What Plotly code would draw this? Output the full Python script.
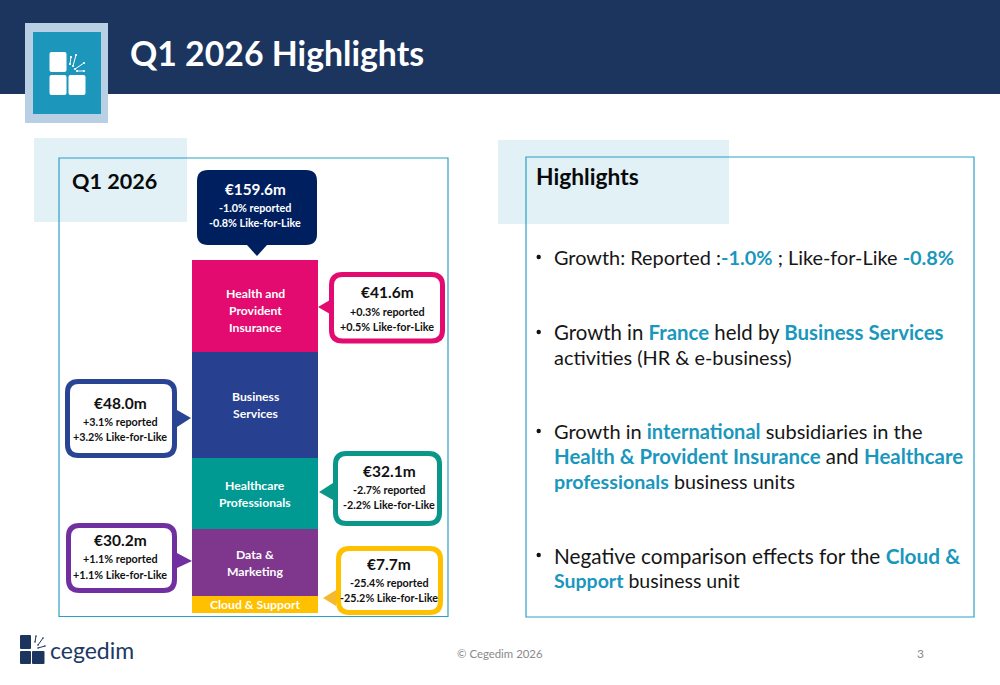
import plotly.graph_objects as go

# ---- data ----
segments = ["Cloud & Support", "Data &<br>Marketing", "Healthcare<br>Professionals",
            "Business<br>Services", "Health and<br>Provident<br>Insurance"]
revenue = [7.7, 30.2, 32.1, 48.0, 41.6]
seg_colors = ["#FFC000", "#7E378D", "#009A93", "#27408F", "#E30B6F"]

total_value = "€159.6m"
total_reported = "-1.0% reported"
total_lfl = "-0.8% Like-for-Like"
callout_values = ["€41.6m", "€48.0m", "€32.1m", "€30.2m", "€7.7m"]
callout_reported = ["+0.3% reported", "+3.1% reported", "-2.7% reported", "+1.1% reported", "-25.4% reported"]
callout_lfl = ["+0.5% Like-for-Like", "+3.2% Like-for-Like", "-2.2% Like-for-Like", "+1.1% Like-for-Like", "-25.2% Like-for-Like"]

B = "#1A97BD"
def hl(s):
    return f'<b><span style="color:{B}">{s}</span></b>'

body_lines = [
    "Growth: Reported :" + hl("-1.0%") + " ; Like-for-Like " + hl("-0.8%"),
    "Growth in " + hl("France") + " held by " + hl("Business Services"),
    "activities (HR &amp; e-business)",
    "Growth in " + hl("international") + " subsidiaries in the",
    hl("Health &amp; Provident Insurance") + " and " + hl("Healthcare"),
    hl("professionals") + " business units",
    "Negative comparison effects for the " + hl("Cloud &amp;"),
    hl("Support") + " business unit",
]

FONT = "Lato"
W, H = 1000, 685

fig = go.Figure()
for name, val, col in zip(segments, revenue, seg_colors):
    fig.add_trace(go.Bar(
        x=["Q1 2026"], y=[val], name=name.replace("<br>", " "),
        marker=dict(color=col, line=dict(width=0)),
        hoverinfo="name+y", showlegend=False,
    ))

shapes, annos = [], []

def S(**k):
    k.setdefault("xref", "x2"); k.setdefault("yref", "y2"); k.setdefault("layer", "below")
    shapes.append(k)

def rect(x0, y0, x1, y1, fill=None, line=None, lw=0):
    d = dict(type="rect", x0=x0, y0=y0, x1=x1, y1=y1, line=dict(width=lw, color=line))
    if fill: d["fillcolor"] = fill
    S(**d)

def rr_path(x0, y0, x1, y1, r):
    return (f"M{x0+r},{y0} L{x1-r},{y0} Q{x1},{y0} {x1},{y0+r} L{x1},{y1-r} Q{x1},{y1} {x1-r},{y1} "
            f"L{x0+r},{y1} Q{x0},{y1} {x0},{y1-r} L{x0},{y0+r} Q{x0},{y0} {x0+r},{y0} Z")

def rrect(x0, y0, x1, y1, r, fill, line=None, lw=0):
    S(type="path", path=rr_path(x0, y0, x1, y1, r), fillcolor=fill, line=dict(width=lw, color=line or fill))

def tri(pts, fill):
    S(type="path", path="M" + " L".join(f"{a},{b}" for a, b in pts) + " Z", fillcolor=fill, line=dict(width=0))

def dot(x, y, r, col):
    S(type="circle", x0=x-r, x1=x+r, y0=y-r, y1=y+r, fillcolor=col, line=dict(width=0))

def spark(a, b, c, d, col, r=1.1):
    S(type="line", x0=a, y0=b, x1=c, y1=d, line=dict(color=col, width=1))
    dot(a, b, r, col); dot(c, d, r, col)

def text(x, y, s, size, color="#111111", anchor="left", bold=False, family=FONT):
    annos.append(dict(xref="x2", yref="y2", x=x, y=y, text=f"<b>{s}</b>" if bold else s, showarrow=False,
                      xanchor=anchor, yanchor="middle", align=anchor, font=dict(family=family, size=size, color=color)))

# header
rect(0, 0, 1000, 94, fill="#1C355E")
rect(25, 23, 108, 123, fill="#B9CFE3")
rect(33, 32, 101, 114, fill="#1D96BC")
for (a, b, c, d) in [(49.5, 52, 66.5, 72), (49.5, 75, 66.5, 95), (68.5, 75, 85.5, 95)]:
    rrect(a, b, c, d, 2, "white")
for (a, b, c, d) in [(70, 64, 71, 57), (73, 66, 76, 55), (75, 69, 84, 63), (77, 71, 84, 71)]:
    spark(a, b, c, d, "white")
text(128, 53, "Q1 2026 Highlights", 33.8, "white", bold=True)

# panels
rect(34, 138, 187, 222, fill="#E1F1F6")
rect(59, 158, 448, 616.5, line="#2BA0C6", lw=1.2)
rect(498, 140, 729, 224, fill="#E1F1F6")
rect(526, 157, 974, 617, line="#2BA0C6", lw=1.2)
text(70, 181, "Q1 2026", 21.6, "#0A0A0A", bold=True)
text(534, 176, "Highlights", 22.8, "#0A0A0A", bold=True)

# total callout
rrect(197, 170, 317, 245, 11, "#001F5F")
tri([(247, 245), (267, 245), (257, 256)], "#001F5F")
text(255, 189, total_value, 15.3, "white", "center", True)
text(255, 207, total_reported, 10.8, "white", "center", True)
text(255, 222, total_lfl, 10.8, "white", "center", True)

# segment callouts
boxes = [
    (331.5, 274.5, 442.5, 341, "#E30B6F", [(318, 307), (330, 300), (330, 314)], "#E30B6F", 387, (292, 311.5, 326.5)),
    (67.5, 381.5, 174.5, 455.5, "#2A4494", [(191, 418), (177, 410), (177, 427)], "#2A4494", 120, (403, 421, 436.5)),
    (335.5, 453.5, 439.5, 523.5, "#0A9688", [(319, 492), (333, 483), (333, 500)], "#0A9688", 389, (471, 489, 504)),
    (68.5, 525.5, 174.5, 590.5, "#7030A0", [(192, 561), (177, 553), (177, 568)], "#7030A0", 120, (540, 558, 574)),
    (338.5, 548.5, 440.5, 612.5, "#FFC000", [(323, 598), (336, 590), (336, 606)], "#F4B92E", 389, (564, 582, 597)),
]
for (x0, y0, x1, y1, col, t, tcol, cx, ys), v, r, l in zip(boxes, callout_values, callout_reported, callout_lfl):
    rrect(x0, y0, x1, y1, 11, "white", col, 5)
    tri(t, tcol)
    text(cx, ys[0], v, 15.5, "#111111", "center", True)
    text(cx, ys[1], r, 10.8, "#111111", "center", True)
    text(cx, ys[2], l, 10.8, "#111111", "center", True)

# segment names, placed at the bar segment centres
LINE = 17
base = 0
for name, val in zip(segments, revenue):
    parts = name.split("<br>")
    for i, p in enumerate(parts):
        annos.append(dict(xref="x", yref="y", x="Q1 2026", y=base + val / 2, text=f"<b>{p.replace('&', '&amp;')}</b>",
                          showarrow=False, xanchor="center", yanchor="middle",
                          yshift=-(i - (len(parts) - 1) / 2) * LINE - (4 if len(parts) == 3 else 0),
                          font=dict(family=FONT, size=12.2, color="white")))
    base += val

# body text
body_ys = [257, 332, 357, 431, 456, 481, 555, 580]
body_sizes = [19.9, 20.4, 19.9, 20, 20.4, 19.7, 20.8, 19.5]
for y, s, z in zip(body_ys, body_lines, body_sizes):
    text(552, y, s, z, "#161616")
for y in [257, 332, 431, 555]:
    dot(538.7, y, 2.2, "#111111")

# footer
for (a, b, c, d) in [(20, 635, 31, 649), (20, 651, 31, 664), (32, 651, 44.5, 664)]:
    rrect(a, b, c, d, 1, "#1C355E")
for (a, b, c, d) in [(35, 642, 36, 636), (38, 645, 43, 638), (38, 648, 45, 646)]:
    spark(a, b, c, d, "#1C355E", 0.8)
text(48, 650, "cegedim", 23, "#1C3A63")
text(500, 653, "© Cegedim 2026", 11.4, "#8A8A8A", "center")
text(920, 653, "3", 12, "#8A8A8A", "center")

fig.update_layout(
    width=W, height=H, margin=dict(l=0, r=0, t=0, b=0), autosize=False,
    paper_bgcolor="white", plot_bgcolor="rgba(0,0,0,0)",
    barmode="stack", bargap=0, shapes=shapes, annotations=annos,
    hovermode="closest",
    xaxis=dict(domain=[192 / W, 318 / W], visible=False, fixedrange=True),
    yaxis=dict(domain=[1 - 613 / H, 1 - 260 / H], range=[0, sum(revenue)], visible=False, fixedrange=True),
    xaxis2=dict(domain=[0, 1], range=[0, W], visible=False, anchor="y2", fixedrange=True),
    yaxis2=dict(domain=[0, 1], range=[H, 0], visible=False, anchor="x2", fixedrange=True),
)
fig.add_trace(go.Scatter(x=[0], y=[0], xaxis="x2", yaxis="y2", mode="markers", marker=dict(opacity=0), showlegend=False, hoverinfo="skip"))
fig.write_html("out.html", post_script="document.body.style.margin='0';", config=dict(displayModeBar=False))
